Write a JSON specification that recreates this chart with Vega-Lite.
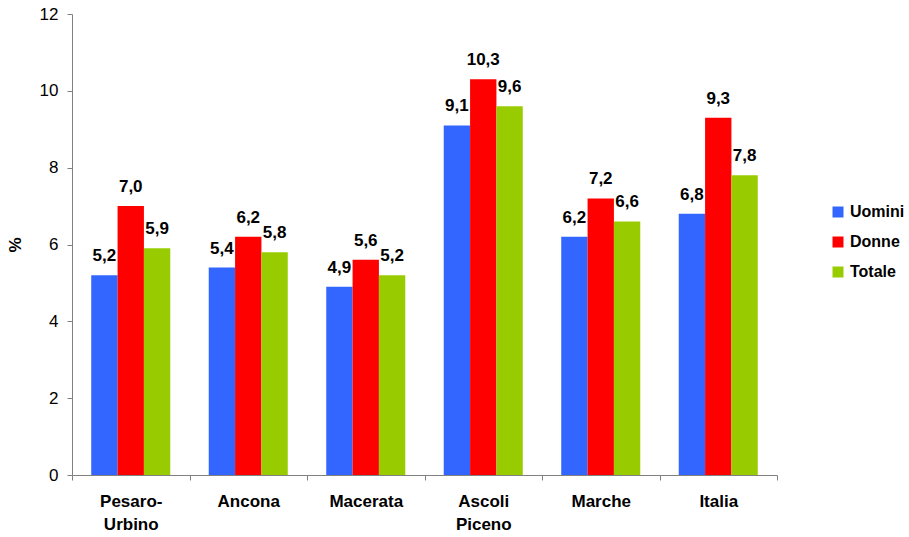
{
  "$schema": "https://vega.github.io/schema/vega-lite/v6.json",
  "width": 705,
  "height": 461,
  "autosize": {"type": "none"},
  "padding": {"left": 72, "top": 14, "right": 132, "bottom": 62},
  "background": "white",
  "config": {
    "font": "Liberation Sans",
    "view": {"stroke": null},
    "locale": {
      "number": {"decimal": ",", "thousands": ".", "grouping": [3], "currency": ["", " €"]}
    },
    "axis": {
      "domainColor": "#808080",
      "tickColor": "#808080",
      "tickSize": 5,
      "grid": false,
      "labelColor": "black",
      "titleColor": "black"
    }
  },
  "data": {
    "values": [
      {"area": "Pesaro-Urbino", "gruppo": "Uomini", "valore": 5.2},
      {"area": "Pesaro-Urbino", "gruppo": "Donne", "valore": 7.0},
      {"area": "Pesaro-Urbino", "gruppo": "Totale", "valore": 5.9},
      {"area": "Ancona", "gruppo": "Uomini", "valore": 5.4},
      {"area": "Ancona", "gruppo": "Donne", "valore": 6.2},
      {"area": "Ancona", "gruppo": "Totale", "valore": 5.8},
      {"area": "Macerata", "gruppo": "Uomini", "valore": 4.9},
      {"area": "Macerata", "gruppo": "Donne", "valore": 5.6},
      {"area": "Macerata", "gruppo": "Totale", "valore": 5.2},
      {"area": "Ascoli Piceno", "gruppo": "Uomini", "valore": 9.1},
      {"area": "Ascoli Piceno", "gruppo": "Donne", "valore": 10.3},
      {"area": "Ascoli Piceno", "gruppo": "Totale", "valore": 9.6},
      {"area": "Marche", "gruppo": "Uomini", "valore": 6.2},
      {"area": "Marche", "gruppo": "Donne", "valore": 7.2},
      {"area": "Marche", "gruppo": "Totale", "valore": 6.6},
      {"area": "Italia", "gruppo": "Uomini", "valore": 6.8},
      {"area": "Italia", "gruppo": "Donne", "valore": 9.3},
      {"area": "Italia", "gruppo": "Totale", "valore": 7.8}
    ]
  },
  "encoding": {
    "x": {
      "field": "area",
      "type": "nominal",
      "sort": ["Pesaro-Urbino", "Ancona", "Macerata", "Ascoli Piceno", "Marche", "Italia"],
      "scale": {"paddingInner": 0, "paddingOuter": 0},
      "axis": {
        "title": null,
        "labelAngle": 0,
        "tickBand": "extent",
        "labelFontSize": 17,
        "labelFontWeight": "bold",
        "labelPadding": 13,
        "labelLineHeight": 23,
        "labelBaseline": "top",
        "labelExpr": "datum.label == 'Pesaro-Urbino' ? ['Pesaro-', 'Urbino'] : datum.label == 'Ascoli Piceno' ? ['Ascoli', 'Piceno'] : datum.label"
      }
    },
    "xOffset": {
      "field": "gruppo",
      "type": "nominal",
      "sort": ["Uomini", "Donne", "Totale"],
      "scale": {"paddingInner": 0, "paddingOuter": 0.73}
    },
    "y": {
      "field": "valore",
      "type": "quantitative",
      "scale": {"domain": [0, 12], "nice": false},
      "axis": {
        "title": "%",
        "titleFontSize": 17,
        "titleFontWeight": "bold",
        "titlePadding": 15,
        "values": [0, 2, 4, 6, 8, 10, 12],
        "format": "d",
        "labelFontSize": 17,
        "labelPadding": 9
      }
    }
  },
  "layer": [
    {
      "mark": {"type": "bar"},
      "encoding": {
        "color": {
          "field": "gruppo",
          "type": "nominal",
          "sort": ["Uomini", "Donne", "Totale"],
          "scale": {"domain": ["Uomini", "Donne", "Totale"], "range": ["#3366FF", "#FF0000", "#99CC00"]},
          "legend": {
            "title": null,
            "orient": "none",
            "legendX": 758,
            "legendY": 190,
            "symbolType": "square",
            "symbolSize": 121,
            "symbolStrokeWidth": 0,
            "labelFontSize": 16,
            "labelFontWeight": "bold",
            "labelColor": "black",
            "labelOffset": 4,
            "rowPadding": 14
          }
        }
      }
    },
    {
      "mark": {"type": "text", "fontSize": 17, "fontWeight": "bold", "color": "black", "baseline": "alphabetic", "dy": -14},
      "encoding": {
        "text": {"field": "valore", "type": "quantitative", "format": ".1f"}
      }
    }
  ]
}
